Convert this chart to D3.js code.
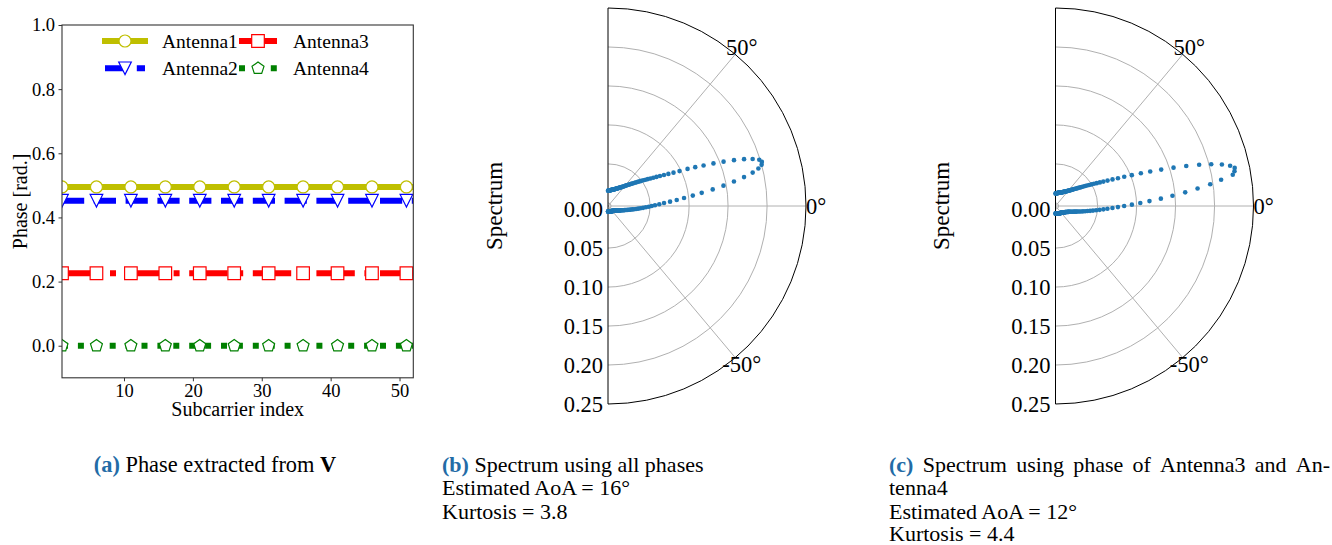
<!DOCTYPE html>
<html>
<head>
<meta charset="utf-8">
<script src="https://cdn.jsdelivr.net/npm/d3@7"></script>
<style>
  body { margin: 0; background: #fff; }
  svg { display: block; font-family: "Liberation Serif", "Times New Roman", serif; }
</style>
</head>
<body>
<script>
const width = 1332, height = 545;

// (a) phase extracted from V, one value per subcarrier
const subcarriers = d3.range(1, 53);
const antenna1Phase = [
  0.495, 0.495, 0.495, 0.495, 0.495, 0.495, 0.495, 0.495, 0.495, 0.495, 0.495, 0.495, 0.495,
  0.495, 0.495, 0.495, 0.495, 0.495, 0.495, 0.495, 0.495, 0.495, 0.495, 0.495, 0.495, 0.495,
  0.495, 0.495, 0.495, 0.495, 0.495, 0.495, 0.495, 0.495, 0.495, 0.495, 0.495, 0.495, 0.495,
  0.495, 0.495, 0.495, 0.495, 0.495, 0.495, 0.495, 0.495, 0.495, 0.495, 0.495, 0.495, 0.495,
];
const antenna2Phase = [
  0.452, 0.452, 0.452, 0.452, 0.452, 0.452, 0.452, 0.452, 0.452, 0.452, 0.452, 0.452, 0.452,
  0.452, 0.452, 0.452, 0.452, 0.452, 0.452, 0.452, 0.452, 0.452, 0.452, 0.452, 0.452, 0.452,
  0.452, 0.452, 0.452, 0.452, 0.452, 0.452, 0.452, 0.452, 0.452, 0.452, 0.452, 0.452, 0.452,
  0.452, 0.452, 0.452, 0.452, 0.452, 0.452, 0.452, 0.452, 0.452, 0.452, 0.452, 0.452, 0.452,
];
const antenna3Phase = [
  0.226, 0.226, 0.226, 0.226, 0.226, 0.226, 0.226, 0.226, 0.226, 0.226, 0.226, 0.226, 0.226,
  0.226, 0.226, 0.226, 0.226, 0.226, 0.226, 0.226, 0.226, 0.226, 0.226, 0.226, 0.226, 0.226,
  0.226, 0.226, 0.226, 0.226, 0.226, 0.226, 0.226, 0.226, 0.226, 0.226, 0.226, 0.226, 0.226,
  0.226, 0.226, 0.226, 0.226, 0.226, 0.226, 0.226, 0.226, 0.226, 0.226, 0.226, 0.226, 0.226,
];
const antenna4Phase = [
  0, 0, 0, 0, 0, 0, 0, 0, 0, 0, 0, 0, 0,
  0, 0, 0, 0, 0, 0, 0, 0, 0, 0, 0, 0, 0,
  0, 0, 0, 0, 0, 0, 0, 0, 0, 0, 0, 0, 0,
  0, 0, 0, 0, 0, 0, 0, 0, 0, 0, 0, 0, 0,
];
const phaseTicks = [0, 0.2, 0.4, 0.6, 0.8, 1.0];
const subcarrierTicks = [10, 20, 30, 40, 50];

// (b), (c) spectrum over the angle grid -90..90 deg
const thetaDeg = d3.range(-90, 91);
const spectrumAll = [
  0.0030, 0.0030, 0.0030, 0.0030, 0.0030, 0.0030, 0.0030, 0.0030, 0.0030, 0.0030,
  0.0031, 0.0031, 0.0031, 0.0031, 0.0031, 0.0031, 0.0032, 0.0032, 0.0032, 0.0032,
  0.0033, 0.0033, 0.0033, 0.0034, 0.0034, 0.0034, 0.0035, 0.0035, 0.0036, 0.0036,
  0.0037, 0.0037, 0.0038, 0.0039, 0.0039, 0.0040, 0.0041, 0.0041, 0.0042, 0.0043,
  0.0044, 0.0045, 0.0046, 0.0047, 0.0048, 0.0049, 0.0051, 0.0052, 0.0053, 0.0055,
  0.0056, 0.0058, 0.0060, 0.0062, 0.0064, 0.0066, 0.0068, 0.0070, 0.0073, 0.0076,
  0.0079, 0.0082, 0.0085, 0.0089, 0.0093, 0.0097, 0.0102, 0.0107, 0.0112, 0.0118,
  0.0124, 0.0131, 0.0139, 0.0147, 0.0157, 0.0167, 0.0178, 0.0191, 0.0205, 0.0220,
  0.0237, 0.0255, 0.0275, 0.0297, 0.0322, 0.0349, 0.0379, 0.0411, 0.0446, 0.0483,
  0.0521, 0.0563, 0.0618, 0.0680, 0.0758, 0.0845, 0.0941, 0.1056, 0.1174, 0.1320,
  0.1464, 0.1606, 0.1744, 0.1865, 0.1948, 0.2000, 0.2013, 0.1989, 0.1911, 0.1806,
  0.1680, 0.1548, 0.1419, 0.1292, 0.1185, 0.1086, 0.0981, 0.0903, 0.0837, 0.0781,
  0.0730, 0.0685, 0.0645, 0.0609, 0.0577, 0.0548, 0.0521, 0.0496, 0.0473, 0.0452,
  0.0432, 0.0414, 0.0397, 0.0381, 0.0366, 0.0353, 0.0340, 0.0328, 0.0317, 0.0306,
  0.0296, 0.0287, 0.0278, 0.0270, 0.0262, 0.0255, 0.0248, 0.0242, 0.0236, 0.0231,
  0.0226, 0.0221, 0.0216, 0.0212, 0.0208, 0.0204, 0.0200, 0.0197, 0.0194, 0.0191,
  0.0188, 0.0185, 0.0183, 0.0180, 0.0178, 0.0176, 0.0174, 0.0172, 0.0170, 0.0169,
  0.0167, 0.0166, 0.0164, 0.0163, 0.0162, 0.0161, 0.0160, 0.0159, 0.0158, 0.0157,
  0.0156,
];
const spectrumAnt34 = [
  0.0057, 0.0057, 0.0057, 0.0057, 0.0057, 0.0057, 0.0057, 0.0057, 0.0058, 0.0058,
  0.0058, 0.0058, 0.0059, 0.0059, 0.0059, 0.0060, 0.0060, 0.0060, 0.0061, 0.0061,
  0.0061, 0.0062, 0.0062, 0.0063, 0.0063, 0.0064, 0.0064, 0.0065, 0.0065, 0.0066,
  0.0067, 0.0067, 0.0068, 0.0069, 0.0069, 0.0070, 0.0071, 0.0072, 0.0073, 0.0074,
  0.0075, 0.0076, 0.0077, 0.0078, 0.0080, 0.0081, 0.0082, 0.0084, 0.0085, 0.0087,
  0.0089, 0.0091, 0.0093, 0.0095, 0.0097, 0.0100, 0.0102, 0.0105, 0.0108, 0.0112,
  0.0115, 0.0119, 0.0123, 0.0128, 0.0133, 0.0138, 0.0144, 0.0151, 0.0158, 0.0166,
  0.0175, 0.0185, 0.0196, 0.0208, 0.0222, 0.0237, 0.0254, 0.0273, 0.0295, 0.0319,
  0.0346, 0.0375, 0.0408, 0.0444, 0.0484, 0.0528, 0.0576, 0.0627, 0.0691, 0.0761,
  0.0841, 0.0940, 0.1048, 0.1167, 0.1315, 0.1466, 0.1633, 0.1796, 0.1964, 0.2111,
  0.2269, 0.2299, 0.2310, 0.2259, 0.2160, 0.2028, 0.1877, 0.1714, 0.1552, 0.1394,
  0.1253, 0.1133, 0.1016, 0.0918, 0.0837, 0.0767, 0.0703, 0.0649, 0.0605, 0.0565,
  0.0530, 0.0498, 0.0469, 0.0442, 0.0418, 0.0396, 0.0376, 0.0357, 0.0340, 0.0324,
  0.0310, 0.0297, 0.0285, 0.0273, 0.0263, 0.0253, 0.0244, 0.0236, 0.0228, 0.0221,
  0.0215, 0.0209, 0.0203, 0.0198, 0.0193, 0.0188, 0.0184, 0.0180, 0.0176, 0.0172,
  0.0169, 0.0166, 0.0163, 0.0160, 0.0157, 0.0155, 0.0152, 0.0150, 0.0148, 0.0146,
  0.0144, 0.0142, 0.0140, 0.0139, 0.0137, 0.0136, 0.0134, 0.0133, 0.0132, 0.0131,
  0.0130, 0.0129, 0.0128, 0.0127, 0.0126, 0.0125, 0.0124, 0.0123, 0.0122, 0.0121,
  0.0120,
];
const thetaTicks = [-50, 0, 50];
const radialTicks = [0, 0.05, 0.1, 0.15, 0.2, 0.25];

const lw = 6;
const phaseSeries = [
  { name: "Antenna1", values: antenna1Phase, color: "#bfbf00", dash: null, marker: "circle" },
  { name: "Antenna2", values: antenna2Phase, color: "#0000ff", dash: [3.7 * lw, 1.6 * lw], marker: "triangle" },
  { name: "Antenna3", values: antenna3Phase, color: "#ff0000", dash: [6.4 * lw, 1.6 * lw, 1 * lw, 1.6 * lw], marker: "square" },
  { name: "Antenna4", values: antenna4Phase, color: "#008000", dash: [1 * lw, 1.65 * lw], marker: "pentagon" },
];

const svg = d3
  .select("body")
  .append("svg")
  .attr("width", width)
  .attr("height", height);

svg.append("rect").attr("width", width).attr("height", height).attr("fill", "#fff");

// marker shapes, centred on 0,0
function markerPath(type) {
  const h = 6.3;
  if (type === "circle") return d3.symbol(d3.symbolCircle, Math.PI * 6 * 6)();
  if (type === "square") return `M${-h},${-h}H${h}V${h}H${-h}Z`;
  if (type === "triangle") return `M0,${h}L${-h},${-h}L${h},${-h}Z`;
  const pts = d3.range(5).map((k) => {
    const a = Math.PI / 2 + (k * 2 * Math.PI) / 5;
    return [h * Math.cos(a), -h * Math.sin(a)];
  });
  return "M" + pts.join("L") + "Z";
}

// ---------- panel (a) ----------
const box = { left: 62, right: 413.3, top: 25, bottom: 377.8 };
const x = d3.scaleLinear().domain([1, 52]).range([box.left, box.right]);
const y = d3.scaleLinear().domain([-0.1, 1.0]).range([box.bottom, box.top]);

svg
  .append("clipPath")
  .attr("id", "clip-a")
  .append("rect")
  .attr("x", box.left)
  .attr("y", box.top)
  .attr("width", box.right - box.left)
  .attr("height", box.bottom - box.top);

const line = d3
  .line()
  .x((d, i) => x(subcarriers[i]))
  .y((d) => y(d));

const plot = svg.append("g").attr("clip-path", "url(#clip-a)");

phaseSeries.forEach((s) => {
  plot
    .append("path")
    .attr("d", line(s.values))
    .attr("fill", "none")
    .attr("stroke", s.color)
    .attr("stroke-width", lw)
    .attr("stroke-linecap", s.dash ? "butt" : "square")
    .attr("stroke-dasharray", s.dash ? s.dash.join(",") : null);

  // markevery = 5
  plot
    .selectAll(null)
    .data(subcarriers.filter((d, i) => i % 5 === 0))
    .join("path")
    .attr("transform", (d) => `translate(${x(d)},${y(s.values[d - 1])})`)
    .attr("d", markerPath(s.marker))
    .attr("fill", "#fff")
    .attr("stroke", s.color)
    .attr("stroke-width", 1.2);
});

const yAxis = svg
  .append("g")
  .attr("transform", `translate(${box.left},0)`)
  .call(
    d3.axisLeft(y).tickValues(phaseTicks).tickFormat(d3.format(".1f")).tickSize(3.5).tickPadding(3.5),
  );
const xAxis = svg
  .append("g")
  .attr("transform", `translate(0,${box.bottom})`)
  .call(d3.axisBottom(x).tickValues(subcarrierTicks).tickSize(3.5).tickPadding(3));

[yAxis, xAxis].forEach((g) => {
  g.select(".domain").remove();
  g.attr("font-family", null).attr("font-size", 18.5);
  g.selectAll("line").attr("stroke", "#333");
  g.selectAll("text").attr("fill", "#000");
});

svg
  .append("rect")
  .attr("x", box.left)
  .attr("y", box.top)
  .attr("width", box.right - box.left)
  .attr("height", box.bottom - box.top)
  .attr("fill", "none")
  .attr("stroke", "#333")
  .attr("stroke-width", 1.1);

svg
  .append("text")
  .attr("transform", `translate(20,${(box.top + box.bottom) / 2}) rotate(-90)`)
  .attr("text-anchor", "middle")
  .attr("dominant-baseline", "central")
  .attr("font-size", 20)
  .text("Phase [rad.]");

svg
  .append("text")
  .attr("x", (box.left + box.right) / 2)
  .attr("y", 416)
  .attr("text-anchor", "middle")
  .attr("font-size", 20)
  .text("Subcarrier index");

// legend, 2 columns, filled column by column
const legendCols = [
  { x0: 105, x1: 145, tx: 162 },
  { x0: 239, x1: 277, tx: 293 },
];
const legendRows = [41, 68.3];

phaseSeries.forEach((s, i) => {
  const col = legendCols[Math.floor(i / 2)];
  const ly = legendRows[i % 2];
  const g = svg.append("g");
  g.append("line")
    .attr("x1", col.x0)
    .attr("x2", col.x1)
    .attr("y1", ly)
    .attr("y2", ly)
    .attr("stroke", s.color)
    .attr("stroke-width", lw)
    .attr("stroke-linecap", s.dash ? "butt" : "square")
    .attr("stroke-dasharray", s.dash ? s.dash.join(",") : null);
  g.append("path")
    .attr("transform", `translate(${(col.x0 + col.x1) / 2},${ly})`)
    .attr("d", markerPath(s.marker))
    .attr("fill", "#fff")
    .attr("stroke", s.color)
    .attr("stroke-width", 1.2);
  g.append("text")
    .attr("x", col.tx)
    .attr("y", ly)
    .attr("dominant-baseline", "central")
    .attr("font-size", 19.5)
    .text(s.name);
});

// ---------- panels (b), (c) ----------
function drawPolar(cx, cy, values) {
  const r = d3.scaleLinear().domain([-0.004, 0.25]).range([0, 198]);
  const R = r(0.25);
  const toXY = (deg, v) => {
    const t = (deg * Math.PI) / 180;
    return [cx + r(v) * Math.cos(t), cy - r(v) * Math.sin(t)];
  };
  const g = svg.append("g");

  // radial rings
  radialTicks.slice(0, -1).forEach((v) => {
    const p = d3.path();
    p.arc(cx, cy, r(v), -Math.PI / 2, Math.PI / 2);
    g.append("path")
      .attr("d", p.toString())
      .attr("fill", "none")
      .attr("stroke", "#b0b0b0")
      .attr("stroke-width", 1);
  });

  // angle grid lines
  thetaTicks.forEach((t) => {
    const [x1, y1] = toXY(t, 0.25);
    g.append("line")
      .attr("x1", cx)
      .attr("y1", cy)
      .attr("x2", x1)
      .attr("y2", y1)
      .attr("stroke", "#b0b0b0")
      .attr("stroke-width", 1);
  });

  // spine
  const sp = d3.path();
  sp.moveTo(cx, cy + R);
  sp.lineTo(cx, cy - R);
  sp.arc(cx, cy, R, -Math.PI / 2, Math.PI / 2);
  g.append("path")
    .attr("d", sp.toString())
    .attr("fill", "none")
    .attr("stroke", "#000")
    .attr("stroke-width", 1);

  // angle labels
  thetaTicks.forEach((t) => {
    const a = (t * Math.PI) / 180;
    g.append("text")
      .attr("x", cx + (R + 10) * Math.cos(a))
      .attr("y", cy - (R + 9) * Math.sin(a))
      .attr("text-anchor", "middle")
      .attr("dominant-baseline", "central")
      .attr("font-size", 22.5)
      .text(`${t}°`);
  });

  // radial labels along the lower edge
  g.selectAll(null)
    .data(radialTicks)
    .join("text")
    .attr("x", cx - 5)
    .attr("y", (d) => cy + r(d))
    .attr("text-anchor", "end")
    .attr("dominant-baseline", "central")
    .attr("font-size", 22.5)
    .text(d3.format(".2f"));

  g.append("text")
    .attr("transform", `translate(${cx - 114},${cy}) rotate(-90)`)
    .attr("text-anchor", "middle")
    .attr("dominant-baseline", "central")
    .attr("font-size", 23)
    .text("Spectrum");

  g.selectAll("circle")
    .data(thetaDeg.map((t, i) => toXY(t, values[i])))
    .join("circle")
    .attr("cx", (d) => d[0])
    .attr("cy", (d) => d[1])
    .attr("r", 2.3)
    .attr("fill", "#1f77b4");
}

drawPolar(608, 206, spectrumAll);
drawPolar(1055.5, 206, spectrumAnt34);

// ---------- captions ----------
const capBlue = "#236ba6";
const capSize = 22;

const capA = svg
  .append("text")
  .attr("x", 215)
  .attr("y", 472)
  .attr("text-anchor", "middle")
  .attr("font-size", 22.4);
capA.append("tspan").attr("fill", capBlue).attr("font-weight", "bold").text("(a)");
capA.append("tspan").text(" Phase extracted from ");
capA.append("tspan").attr("font-weight", "bold").text("V");

function captionLine(x0, yb, text, label) {
  const t = svg.append("text").attr("x", x0).attr("y", yb).attr("font-size", capSize);
  if (label) {
    t.append("tspan").attr("fill", capBlue).attr("font-weight", "bold").text(label);
    t.append("tspan").text(" " + text);
  } else {
    t.text(text);
  }
}

captionLine(442, 472, "Spectrum using all phases", "(b)");
captionLine(442, 495.3, "Estimated AoA = 16°");
captionLine(442, 518.6, "Kurtosis = 3.8");

// justified first line of (c)
const capCWords = ["(c)", "Spectrum", "using", "phase", "of", "Antenna3", "and", "An-"];
const capCLeft = 889, capCRight = 1330;
const wordNodes = capCWords.map((w, i) =>
  svg
    .append("text")
    .attr("y", 472)
    .attr("font-size", capSize)
    .attr("fill", i === 0 ? capBlue : "#000")
    .attr("font-weight", i === 0 ? "bold" : null)
    .text(w),
);
const wordWidths = wordNodes.map((n) => n.node().getComputedTextLength());
const gap = (capCRight - capCLeft - d3.sum(wordWidths)) / (capCWords.length - 1);
let cursor = capCLeft;
wordNodes.forEach((n, i) => {
  n.attr("x", cursor);
  cursor += wordWidths[i] + gap;
});
captionLine(889, 495.3, "tenna4");
captionLine(889, 518.6, "Estimated AoA = 12°");
captionLine(889, 541, "Kurtosis = 4.4");
</script>
</body>
</html>
